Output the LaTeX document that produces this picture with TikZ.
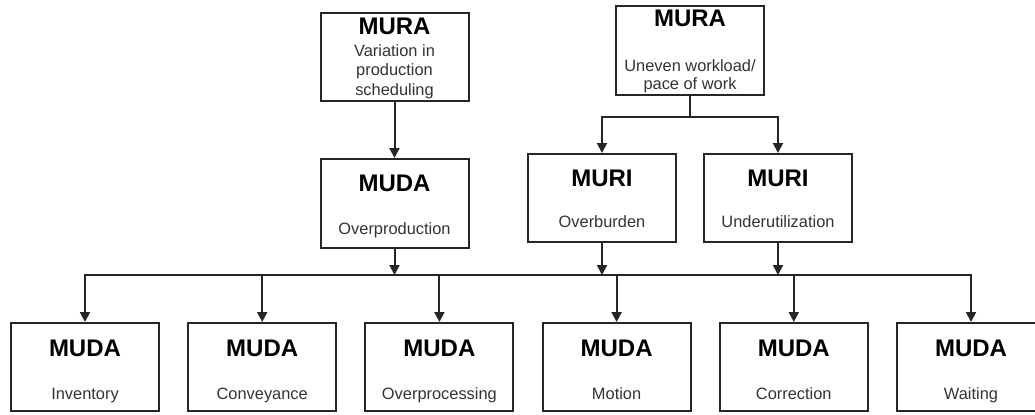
\documentclass[tikz,border=0pt]{standalone}
\usepackage{fontspec}
\setmainfont{Liberation Sans}
\usetikzlibrary{positioning,arrows.meta,calc}

\tikzset{
  box/.style={draw=black!85, line width=1pt, minimum width=74pt, minimum height=44pt, inner sep=0pt},
  ttl/.style={anchor=base, inner sep=0pt, font=\bfseries\fontsize{12}{14}\selectfont},
  sub/.style={anchor=base, inner sep=0pt, align=center, text=black!80, font=\fontsize{8.2}{9.75}\selectfont},
  conn/.style={line width=1pt, draw=black!85, line cap=rect},
  arr/.style={line width=1pt, draw=black!85, -{Triangle[width=5pt,length=5pt]}}
}

\begin{document}
\begin{tikzpicture}[x=0.5pt, y=-0.5pt]
    \useasboundingbox (0,0) rectangle (1035,414);
    % Define nodes
    \node[box] (mura1) at (394.5,57) {};
    \node[ttl] (mura1-t) at ([yshift=11.35pt]mura1.center) {MURA};
    \node[sub] (mura1-s) at ([yshift=-19pt]mura1.center) {Variation in\\production\\scheduling};

    \node[box, minimum height=44.5pt] (mura2) at (690,50.5) {};
    \node[ttl] (mura2-t) at ([yshift=11.9pt]mura2.center) {MURA};
    \node[sub] (mura2-s) at ([yshift=-19.4pt]mura2.center) {Uneven workload/\\[-0.6pt]pace of work};

    \node[box, minimum height=44.5pt] (ovpd) at (394.5,203.5) {};
    \node[ttl] (ovpd-t) at ([yshift=5.9pt]ovpd.center) {MUDA};
    \node[sub] (ovpd-s) at ([yshift=-15.4pt]ovpd.center) {Overproduction};

    \node[box] (muri1) at (602,198) {};
    \node[ttl] (muri1-t) at ([yshift=6pt]muri1.center) {MURI};
    \node[sub] (muri1-s) at ([yshift=-14.85pt]muri1.center) {Overburden};

    \node[box] (muri2) at (778,198) {};
    \node[ttl] (muri2-t) at ([yshift=6pt]muri2.center) {MURI};
    \node[sub] (muri2-s) at ([yshift=-14.85pt]muri2.center) {Underutilization};

    % bottom row
    \node[box] (inv) at (85,367) {};
    \node[box, right=13.6pt of inv] (conv) {};
    \node[box, right=13.6pt of conv] (ovpr) {};
    \node[box, right=13.6pt of ovpr] (mot) {};
    \node[box, right=13.6pt of mot] (corr) {};
    \node[box, right=13.6pt of corr] (wait) {};

    \node[ttl] (inv-t) at ([yshift=5.25pt]inv.center) {MUDA};
    \node[sub] (inv-s) at ([yshift=-16pt]inv.center) {Inventory};
    \node[ttl] (conv-t) at ([yshift=5.25pt]conv.center) {MUDA};
    \node[sub] (conv-s) at ([yshift=-16pt]conv.center) {Conveyance};
    \node[ttl] (ovpr-t) at ([yshift=5.25pt]ovpr.center) {MUDA};
    \node[sub] (ovpr-s) at ([yshift=-16pt]ovpr.center) {Overprocessing};
    \node[ttl] (mot-t) at ([yshift=5.25pt]mot.center) {MUDA};
    \node[sub] (mot-s) at ([yshift=-16pt]mot.center) {Motion};
    \node[ttl] (corr-t) at ([yshift=5.25pt]corr.center) {MUDA};
    \node[sub] (corr-s) at ([yshift=-16pt]corr.center) {Correction};
    \node[ttl] (wait-t) at ([yshift=5.25pt]wait.center) {MUDA};
    \node[sub] (wait-s) at ([yshift=-16pt]wait.center) {Waiting};

    \coordinate (fork) at (690,117);
    \coordinate (bus) at (0,275);

    % Draw arrows
    \draw[arr] (mura1) -- (ovpd);

    \draw[conn] (mura2) -- (fork);
    \draw[conn] (fork -| muri1) -- (fork -| muri2);
    \draw[arr] (fork -| muri1) -- (muri1);
    \draw[arr] (fork -| muri2) -- (muri2);

    \draw[arr] (ovpd) -- (ovpd |- bus);
    \draw[arr] (muri1) -- (muri1 |- bus);
    \draw[arr] (muri2) -- (muri2 |- bus);

    \draw[conn] (inv |- bus) -- (wait |- bus);
    \draw[arr] (inv |- bus) -- (inv);
    \draw[arr] (conv |- bus) -- (conv);
    \draw[arr] (ovpr |- bus) -- (ovpr);
    \draw[arr] (mot |- bus) -- (mot);
    \draw[arr] (corr |- bus) -- (corr);
    \draw[arr] (wait |- bus) -- (wait);
\end{tikzpicture}
\end{document}
